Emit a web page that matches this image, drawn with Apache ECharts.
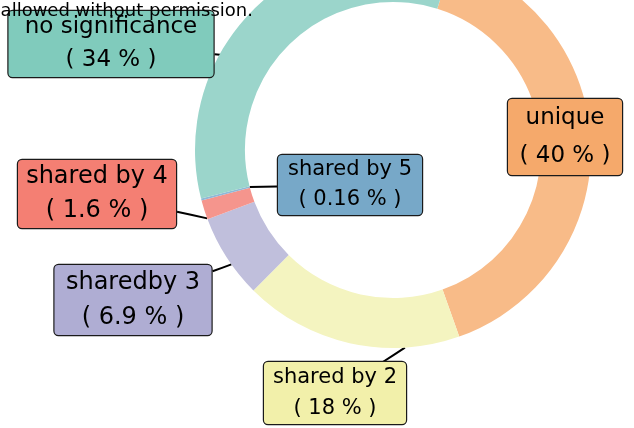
<!DOCTYPE html>
<html lang="en">
<head>
    <meta charset="UTF-8">
    <title>shared donut</title>
    <script src="https://cdn.jsdelivr.net/npm/echarts@6/dist/echarts.min.js"></script>
    <style>
        html, body { margin: 0; padding: 0; background: #ffffff; }
        #main { width: 634px; height: 428px; }
    </style>
</head>
<body>
<div id="main"></div>
<script>
    // data, clockwise from the orange slice
    var names = ['unique', 'shared by 2', 'sharedby 3', 'shared by 4', 'shared by 5', 'no significance'];
    var values = [40, 18, 6.9, 1.6, 0.16, 34];
    var pctText = ['40', '18', '6.9', '1.6', '0.16', '34'];

    // colours: ring and label box
    var ringColors = ['#f8bb88', '#f4f4c0', '#c0bfdc', '#f5958d', '#8fb8d6', '#9bd5cb'];
    var boxColors = ['#f5a96b', '#f2f0aa', '#afadd3', '#f47f73', '#77a8c8', '#80cbbc'];

    // label boxes: centre x, centre y, width, height, font size, line height
    var boxLayout = [
        [565, 137, 116, 71, 23, 38],
        [335, 393, 144, 60, 21, 31],
        [133, 300, 159, 68, 24, 35],
        [97, 194, 160, 66, 24, 34],
        [350, 185, 146, 58, 21, 30],
        [111, 44, 207, 61, 23, 33]
    ];
    // where each leader line meets its slice: fraction along the slice, radius
    var anchorFrac = [0.5, 0.25, 0.4, 0.05, 0.5, 0.37];
    var anchorR = [198, 198, 198, 198, 148, 183];

    var CX = 393, CY = 150, R0 = 148, R1 = 198, START = 72.6;

    var total = values.reduce(function (s, v) { return s + v; }, 0);
    var cum = [];
    values.reduce(function (s, v, i) { cum[i] = s; return s + v; }, 0);

    function anchorPoint(i) {
        // clockwise from 12 o'clock
        var deg = (90 - START) + (cum[i] + values[i] * anchorFrac[i]) / total * 360;
        var rad = deg * Math.PI / 180;
        return [CX + anchorR[i] * Math.sin(rad), CY - anchorR[i] * Math.cos(rad)];
    }

    function boxExit(i, p) {
        var b = boxLayout[i];
        var dx = p[0] - b[0], dy = p[1] - b[1];
        var tx = dx !== 0 ? (b[2] / 2) / Math.abs(dx) : Infinity;
        var ty = dy !== 0 ? (b[3] / 2) / Math.abs(dy) : Infinity;
        var t = Math.min(tx, ty, 1);
        return [b[0] + dx * t, b[1] + dy * t];
    }

    var myChart = echarts.init(document.getElementById('main'));

    var pieData = names.map(function (n, i) {
        var b = boxLayout[i];
        var padV = Math.max(0, (b[3] - 2 * b[5]) / 2);
        return {
            name: n,
            value: values[i],
            itemStyle: { color: ringColors[i] },
            label: {
                fontSize: b[4],
                lineHeight: b[5],
                width: b[2] - 2,
                padding: [padV, 0, padV, 0],
                backgroundColor: boxColors[i]
            }
        };
    });

    var option = {
        animation: false,
        graphic: [{
            type: 'text',
            z: 100,
            style: {
                x: 253,
                y: 11,
                text: 'allowed without permission.',
                align: 'right',
                verticalAlign: 'middle',
                fill: '#000',
                font: '18px "DejaVu Sans"'
            }
        }],
        series: [{
            type: 'pie',
            center: [CX, CY],
            radius: [R0, R1],
            startAngle: START,
            clockwise: true,
            avoidLabelOverlap: false,
            emphasis: { disabled: true },
            itemStyle: { borderWidth: 0 },
            label: {
                show: true,
                position: 'outside',
                fontFamily: 'DejaVu Sans',
                color: '#000',
                align: 'center',
                borderColor: '#1a1a1a',
                borderWidth: 1.2,
                borderRadius: 4,
                formatter: function (p) {
                    return p.name + '\n( ' + pctText[p.dataIndex] + ' % )';
                }
            },
            labelLine: {
                show: true,
                length: 10,
                length2: 10,
                lineStyle: { color: '#000', width: 2 }
            },
            labelLayout: function (params) {
                var i = params.dataIndex;
                var b = boxLayout[i];
                var end = anchorPoint(i);
                var start = boxExit(i, end);
                var mid = [(start[0] + end[0]) / 2, (start[1] + end[1]) / 2];
                return {
                    x: b[0], y: b[1], align: 'center', verticalAlign: 'middle',
                    labelLinePoints: [end, mid, start]
                };
            },
            data: pieData
        }]
    };
    myChart.setOption(option);
</script>
</body>
</html>
